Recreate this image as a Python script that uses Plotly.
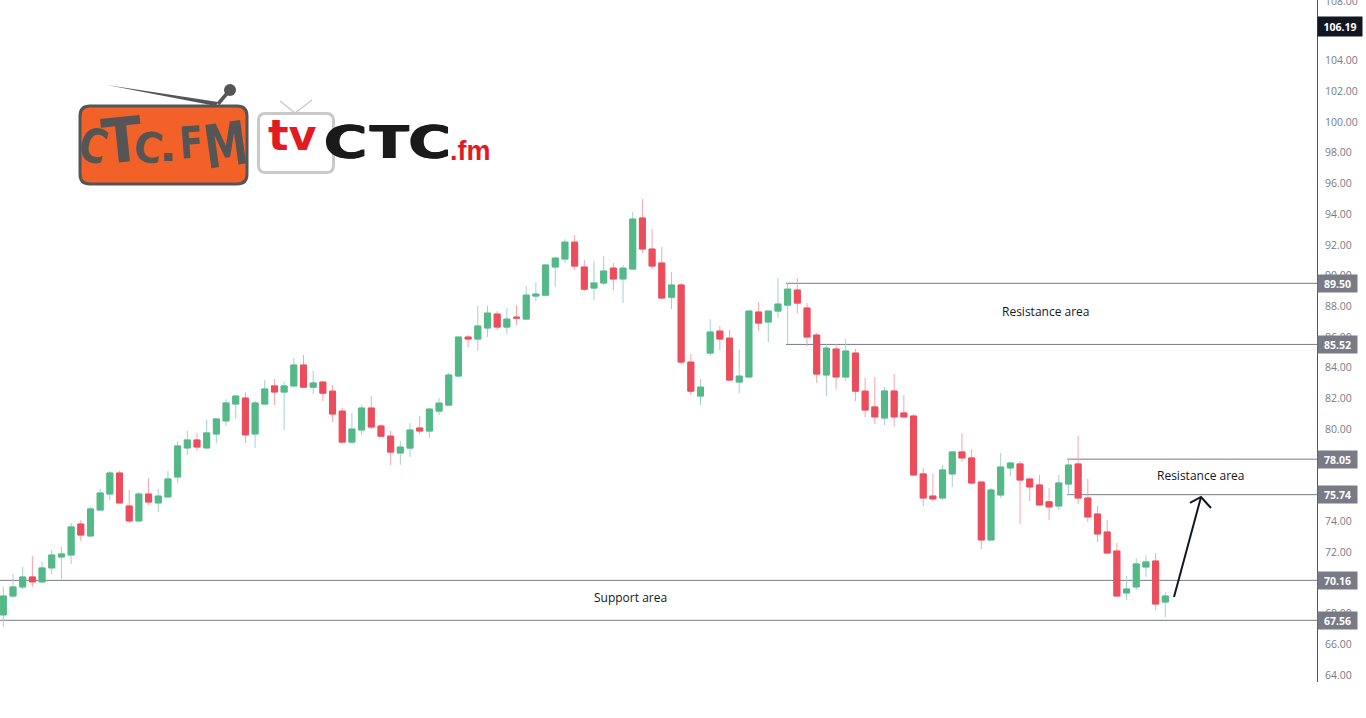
import json
import plotly.graph_objects as go

# ---------- chart data (prices) ----------
CANDLE_INDEX = list(range(121))
OPEN = [67.91,69.14,69.73,70.38,70.06,70.97,71.68,71.81,73.83,73.05,74.74,75.78,77.15,75.00,74.03,75.78,75.20,75.59,76.89,78.78,
        79.30,78.78,79.69,80.54,81.64,82.03,79.69,81.64,82.82,82.42,82.82,84.18,82.74,83.07,82.48,81.18,79.16,79.95,81.38,80.21,
        79.55,78.45,78.77,80.08,79.88,81.18,81.57,83.46,86.00,85.87,86.59,87.50,86.65,87.30,87.17,88.67,88.73,90.56,91.08,92.18,
        90.56,89.19,89.52,90.49,89.78,90.43,93.75,91.73,90.82,88.60,89.39,84.37,82.16,84.96,86.39,85.93,83.07,83.40,87.63,86.98,
        87.69,88.08,89.06,87.89,86.13,83.53,85.22,83.40,84.96,82.48,81.45,80.73,82.49,81.06,80.86,77.09,75.65,75.52,77.09,78.52,
        78.13,76.56,72.79,75.72,77.48,77.74,76.76,76.37,75.27,75.00,76.43,77.74,75.52,74.48,73.31,72.07,69.34,69.73,71.03,71.42,68.75]
HIGH = [69.73,70.58,71.03,71.75,71.36,72.14,72.33,73.90,74.09,74.94,76.11,77.28,77.28,76.04,75.91,76.83,76.11,77.28,79.23,79.89,
        79.76,80.60,80.67,81.97,82.16,82.42,81.84,83.21,83.27,83.08,84.64,84.83,83.79,83.14,82.87,81.38,81.05,81.57,82.16,80.34,
        79.88,79.23,80.40,80.86,81.38,82.03,83.66,86.00,86.13,88.02,88.02,87.69,87.89,88.08,89.32,89.58,90.75,91.21,92.38,92.64,
        91.01,90.95,91.27,90.82,90.69,94.14,94.98,93.03,91.86,90.23,89.52,84.89,83.27,87.17,86.72,86.46,85.15,87.76,88.28,87.69,
        89.84,89.52,89.84,88.21,86.26,85.54,85.54,85.87,85.22,83.33,83.40,82.75,83.60,82.23,81.00,77.48,77.09,77.67,78.58,79.75,
        78.71,76.56,76.17,78.45,77.87,77.93,76.76,77.02,76.17,77.02,78.06,79.56,76.76,75.00,74.09,72.59,70.45,71.62,71.81,71.94,69.40]
LOW = [67.13,69.01,69.60,69.73,69.99,70.58,70.25,71.23,72.72,73.05,74.74,75.39,75.20,73.90,73.96,75.07,74.61,75.59,76.50,78.32,
       78.58,78.78,79.10,80.21,80.67,79.10,78.78,81.58,81.58,79.95,82.75,82.68,82.29,81.83,80.47,79.10,79.03,79.62,80.01,79.49,
       77.67,77.67,78.19,79.68,79.42,80.92,81.51,83.46,85.35,85.09,86.00,86.46,86.20,86.78,87.17,88.34,88.73,89.26,90.82,90.36,
       88.99,88.41,89.39,89.06,88.21,90.43,91.47,90.43,88.47,87.82,84.24,82.22,81.57,84.76,85.15,83.20,82.35,83.40,86.39,85.67,
       87.24,85.54,87.56,85.41,83.01,82.16,82.61,83.14,81.83,80.79,80.34,80.27,80.15,80.73,77.02,75.00,75.27,75.39,76.24,77.87,
       76.37,72.20,72.79,75.52,76.95,73.83,75.33,75.07,74.09,74.74,75.74,75.13,73.96,72.66,71.94,69.14,68.88,69.53,70.38,68.23,67.77]
CLOSE = [69.14,69.73,70.38,70.06,70.97,71.81,71.88,73.64,73.11,74.81,75.85,77.15,75.20,74.03,75.78,75.26,75.65,76.76,78.91,79.30,
         78.84,79.76,80.67,81.71,82.16,79.63,81.71,82.62,82.42,82.82,84.18,82.74,83.01,82.35,80.99,79.16,80.01,81.38,80.14,79.55,
         78.51,78.84,79.95,79.88,81.31,81.70,83.53,86.00,85.87,86.72,87.56,86.65,87.17,87.24,88.73,88.80,90.69,91.14,92.18,90.62,
         89.12,89.52,90.30,89.78,90.49,93.68,91.73,90.62,88.54,89.39,84.37,82.48,82.74,86.33,85.87,83.20,83.46,87.69,86.91,87.69,
         88.15,89.12,88.21,86.00,83.59,85.28,83.40,85.09,82.48,81.25,80.80,82.49,80.80,80.80,77.02,75.52,75.46,77.35,78.52,78.13,
         76.50,72.79,76.04,77.54,77.80,76.69,76.24,75.07,74.94,76.50,77.67,75.52,74.29,73.18,71.94,69.14,69.60,71.23,71.36,68.62,69.14]

TICK_VALUES = [64,66,68,70,72,74,76,78,80,82,84,86,88,90,92,94,96,98,100,102,104,106]
TICK_LABELS = ["64.00","66.00","68.00","70.00","72.00","74.00","76.00","78.00","80.00","82.00","84.00","86.00","88.00",
               "90.00","92.00","94.00","96.00","98.00","100.00","102.00","104.00","106.00"]

LEVEL_PRICES = [89.50, 85.52, 78.05, 75.74, 70.16, 67.56]
LEVEL_LABELS = ["89.50", "85.52", "78.05", "75.74", "70.16", "67.56"]
LEVEL_STARTS = [80.83, 80.83, 109.86, 109.86, -0.35, -0.35]

AREA_TEXTS = ["Resistance area", "Resistance area", "Support area"]
AREA_X = [107.68, 123.68, 64.82]
AREA_Y = [87.66, 76.98, 69.04]

ARROW_X = [120.9, 123.69, None, 122.55, 123.69, 124.72]
ARROW_Y = [69.08, 75.59, None, 75.20, 75.59, 74.87]

LAST_PRICE = 106.19

# ---------- style ----------
W, H = 1366, 718
PLOT_W, PLOT_H = 1317, 682
UP, DOWN = "#53B987", "#EB4D5C"
UP_WICK, DOWN_WICK = "#A5D0CE", "#F9A3AE"
GREY = "#787B86"
TEXT_GREY = "#787B86"
FONT = "Open Sans"

X_RANGE = [-0.344, (PLOT_W - 3.33) / 9.683]
Y_TOP = 67.56 + 620.3 / 15.36
Y_RANGE = [Y_TOP - PLOT_H / 15.36, Y_TOP]

def px(x):
    return x / PLOT_W

def py(y):
    return 1 - y / PLOT_H

def round_rect(x0, y0, x1, y1, r):
    a, b, c, d = px(x0), py(y0), px(x1), py(y1)
    rx, ry = r / PLOT_W, r / PLOT_H
    return (f"M{a+rx},{b} L{c-rx},{b} Q{c},{b} {c},{b-ry} L{c},{d+ry} Q{c},{d} {c-rx},{d} "
            f"L{a+rx},{d} Q{a},{d} {a},{d+ry} L{a},{b-ry} Q{a},{b} {a+rx},{b} Z")

top_of_body = [max(o, c) for o, c in zip(OPEN, CLOSE)]
bottom_of_body = [min(o, c) for o, c in zip(OPEN, CLOSE)]

fig = go.Figure()
# full candles: the wicks
fig.add_trace(go.Candlestick(
    x=CANDLE_INDEX, open=OPEN, high=HIGH, low=LOW, close=CLOSE, whiskerwidth=0,
    increasing=dict(line=dict(color=UP_WICK, width=1), fillcolor=UP),
    decreasing=dict(line=dict(color=DOWN_WICK, width=1), fillcolor=DOWN),
    hoverinfo="skip", showlegend=False))
# same candles without wicks: the solid bodies on top
fig.add_trace(go.Candlestick(
    x=CANDLE_INDEX, open=OPEN, high=top_of_body, low=bottom_of_body, close=CLOSE, whiskerwidth=0,
    increasing=dict(line=dict(color=UP, width=1), fillcolor=UP),
    decreasing=dict(line=dict(color=DOWN, width=1), fillcolor=DOWN),
    hoverinfo="skip", showlegend=False))
fig.add_trace(go.Scatter(x=ARROW_X, y=ARROW_Y, mode="lines", line=dict(color="#131722", width=2),
                         hoverinfo="skip", showlegend=False))

shapes = []
annotations = []

for price, label, start in zip(LEVEL_PRICES, LEVEL_LABELS, LEVEL_STARTS):
    shapes.append(dict(type="line", xref="x", yref="y", x0=start, x1=X_RANGE[1], y0=price, y1=price,
                       line=dict(color=GREY, width=1), layer="below"))
    annotations.append(dict(xref="paper", yref="y", x=1, y=price, xanchor="left", yanchor="middle", text=label,
                            showarrow=False, width=39, height=17, borderpad=0, align="center", bgcolor=GREY,
                            font=dict(family=FONT, size=10.5, color="white", weight="bold")))

annotations.append(dict(xref="paper", yref="y", x=1, y=LAST_PRICE, xanchor="left", yanchor="middle",
                        text=f"{LAST_PRICE:.2f}", showarrow=False, width=44, height=19, borderpad=0, align="center",
                        bgcolor="#131722", font=dict(family=FONT, size=10.5, color="white", weight="bold")))
annotations.append(dict(xref="paper", yref="paper", x=1, y=1, xanchor="left", yanchor="middle", xshift=6, yshift=-1,
                        text="108.00", showarrow=False, font=dict(family=FONT, size=10.5, color=TEXT_GREY)))

for text, x, y in zip(AREA_TEXTS, AREA_X, AREA_Y):
    annotations.append(dict(xref="x", yref="y", x=x, y=y, text=text, showarrow=False,
                            font=dict(family=FONT, size=12, color="#131722")))

# ---------- logos ----------
LOGO_GREY = "#555555"
shapes += [
    dict(type="path", xref="paper", yref="paper", fillcolor="#F26127", line=dict(color=LOGO_GREY, width=3),
         path=round_rect(80, 106, 247, 184, 10)),
    dict(type="path", xref="paper", yref="paper", fillcolor=LOGO_GREY, line=dict(width=0),
         path=f"M{px(107)},{py(85)} L{px(218)},{py(102)} L{px(216)},{py(106)} Z"),
    dict(type="line", xref="paper", yref="paper", x0=px(218), y0=py(104), x1=px(229), y1=py(91),
         line=dict(color=LOGO_GREY, width=3.5)),
    dict(type="circle", xref="paper", yref="paper", x0=px(224), x1=px(236), y0=py(84), y1=py(96),
         fillcolor=LOGO_GREY, line=dict(width=0)),
    dict(type="path", xref="paper", yref="paper", fillcolor="rgba(0,0,0,0)", line=dict(color="#C9C9C9", width=3),
         path=round_rect(258.5, 113.5, 333.5, 172.5, 7)),
    dict(type="line", xref="paper", yref="paper", x0=px(280), y0=py(101), x1=px(295), y1=py(113),
         line=dict(color="#C9C9C9", width=1.5)),
    dict(type="line", xref="paper", yref="paper", x0=px(312), y0=py(100), x1=px(295), y1=py(113),
         line=dict(color="#C9C9C9", width=1.5)),
]

stretch = {}  # annotation index -> horizontal stretch of its glyph

LOGO_LETTERS = [
    ("C", 93, 145, 47, 14, 0.80), ("T", 122, 140, 62, -6, 0.95), ("C", 148, 147, 42, 10, 0.92),
    (".", 168, 146, 42, 0, 1.1), ("F", 191, 142, 44, -4, 0.78), ("M", 226, 145, 60, -8, 0.72),
]
for ch, x, y, size, angle, k in LOGO_LETTERS:
    stretch[len(annotations)] = k
    annotations.append(dict(xref="paper", yref="paper", x=px(x), y=py(y), text=ch, showarrow=False, textangle=angle,
                            xanchor="center", yanchor="middle",
                            font=dict(family="DejaVu Sans", size=size, color=LOGO_GREY, weight="bold")))

RED_LOGO = "#E21B23"
annotations += [
    dict(xref="paper", yref="paper", x=px(292), y=py(135), text="tv", showarrow=False,
         xanchor="center", yanchor="middle",
         font=dict(family="DejaVu Sans", size=43, color=RED_LOGO, weight="bold")),
    dict(xref="paper", yref="paper", x=px(471), y=py(151), text=".fm", showarrow=False,
         xanchor="center", yanchor="middle",
         font=dict(family="Liberation Sans", size=27, color=RED_LOGO, weight="bold")),
]
for ch, x, k in [("C", 345, 1.30), ("T", 389, 1.25), ("C", 429, 1.27)]:
    stretch[len(annotations)] = k
    annotations.append(dict(xref="paper", yref="paper", x=px(x), y=py(142), text=ch, showarrow=False,
                            xanchor="center", yanchor="middle",
                            font=dict(family="DejaVu Sans", size=45, color="#1A1A1A", weight="bold",
                                      shadow="1px 0 0 #1A1A1A, -1px 0 0 #1A1A1A")))

fig.update_layout(
    width=W, height=H,
    margin=dict(l=0, r=W - PLOT_W, t=0, b=H - PLOT_H),
    paper_bgcolor="white", plot_bgcolor="white",
    boxmode="overlay", boxgap=0.0, boxgroupgap=0.38,
    showlegend=False, hovermode=False,
    xaxis=dict(range=X_RANGE, visible=False, rangeslider=dict(visible=False), fixedrange=True),
    yaxis=dict(range=Y_RANGE, side="right", showgrid=False, zeroline=False, showline=True,
               linecolor="#50535E", linewidth=1, ticks="outside", ticklen=5, tickcolor="white",
               tickmode="array", tickvals=TICK_VALUES, ticktext=TICK_LABELS,
               tickfont=dict(family=FONT, size=10.5, color=TEXT_GREY), fixedrange=True),
    shapes=shapes, annotations=annotations,
)

POST = """
document.body.style.margin='0';document.body.style.overflow='hidden';
var stretch = %s;
document.querySelectorAll('.annotation').forEach(function(a){
  var k = stretch[a.getAttribute('data-index')];
  if(!k) return;
  var t = a.querySelector('text');
  var b = t.getBBox();
  var cx = b.x + b.width/2;
  t.setAttribute('transform','translate('+cx+',0) scale('+k+',1) translate('+(-cx)+',0)');
});
""" % json.dumps(stretch)

fig.write_html("out.html", config={"displayModeBar": False}, post_script=POST)
